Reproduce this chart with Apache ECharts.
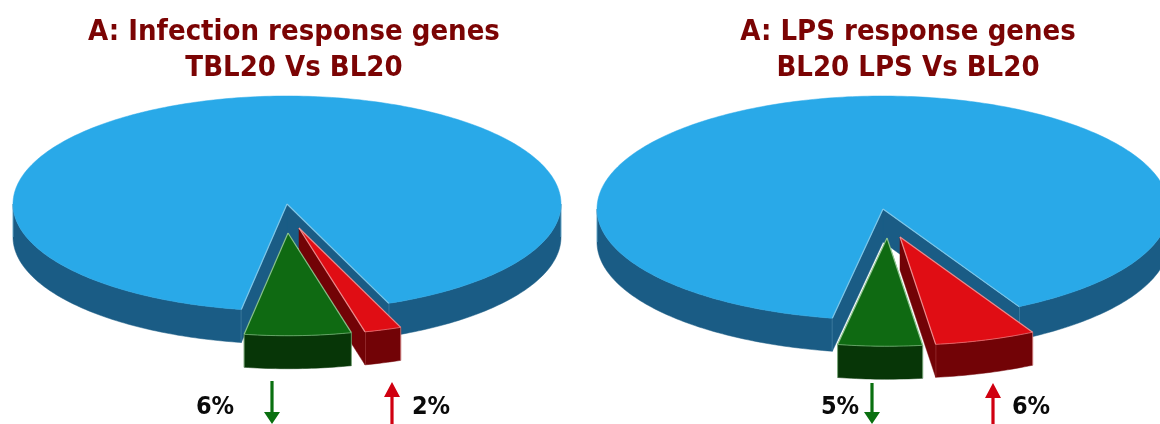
<!DOCTYPE html>
<html>
<head>
<meta charset="utf-8">
<style>html,body{margin:0;padding:0;background:#fff;overflow:hidden}#chart{width:1160px;height:424px}</style>
<script src="https://cdn.jsdelivr.net/npm/echarts@6/dist/echarts.min.js"></script>
</head>
<body>
<div id="chart"></div>
<script>
// Gene shares per comparison, in percent
const sliceNames = ['Down', 'Up', 'Unchanged'];
const infectionShares = [6, 2, 92];
const lpsShares = [5, 6, 89];
const panelTitles = [
  'A: Infection response genes\nTBL20 Vs BL20',
  'A: LPS response genes\nBL20 LPS Vs BL20'
];
const downLabels = ['6%', '5%'];
const upLabels = ['2%', '6%'];

// Colours per slice: top face, side face, edge highlight
const faces = {
  Down: { top: '#0f6a12', side: '#073607', edge: '#9ed09e' },
  Up: { top: '#e00d14', side: '#720306', edge: '#f0a0a0' },
  Unchanged: { top: '#29a9e8', side: '#1a5c85', edge: '#8ccdea' }
};

// Disc placement in the projected view; the near half of the disc is slightly flatter
const pies = [
  { shares: infectionShares, cx: 287, cy: 204, rx: 274, ry: 108, ryNear: 107, depth: 33, start: -9.6, fan: 1.09,
    pull: { Down: [1, 29, 0.96], Up: [12, 24, 1], Unchanged: [0, 0, 1] } },
  { shares: lpsShares, cx: 883, cy: 209, rx: 286, ry: 113, ryNear: 111, depth: 33, start: -10.2, fan: 0.975,
    pull: { Down: [4, 29, 0.975], Up: [17, 28, 0.975], Unchanged: [0, 0, 1] } }
];

// Rows in paint order: back disc first, pulled-out slices over it
const rows = [];
pies.forEach(function (pie, p) {
  const total = pie.shares.reduce(function (a, b) { return a + b; }, 0);
  const sweepD = pie.shares[0] / total * 360 * pie.fan;
  const sweepU = pie.shares[1] / total * 360 * pie.fan;
  const spans = [
    [pie.start, pie.start + sweepD],
    [pie.start + sweepD, pie.start + sweepD + sweepU],
    [pie.start + sweepD + sweepU, pie.start + 360]
  ];
  [2, 1, 0].forEach(function (s) {
    rows.push([p, s, pie.shares[s], spans[s][0], spans[s][1]]);
  });
});

function renderSlice(params, api) {
  const pie = pies[api.value(0)];
  const name = sliceNames[api.value(1)];
  const a0 = api.value(3), a1 = api.value(4);
  const look = faces[name];
  const pull = pie.pull[name];
  const ox = pie.cx + pull[0], oy = pie.cy + pull[1];
  const rx = pie.rx * pull[2];
  const d = pie.depth;
  // Angles run from the front of the disc, growing to the right
  const pt = function (deg, drop) {
    const t = deg * Math.PI / 180;
    const c = Math.cos(t);
    const ry = (c > 0 ? pie.ryNear : pie.ry) * pull[2];
    return [ox + rx * Math.sin(t), oy + ry * c + (drop || 0)];
  };
  const arc = function (from, to, drop) {
    const out = [];
    const n = Math.max(2, Math.ceil(Math.abs(to - from)));
    for (let i = 0; i <= n; i++) out.push(pt(from + (to - from) * i / n, drop));
    return out;
  };
  const poly = function (points, fill, stroke) {
    return { type: 'polygon', shape: { points: points },
      style: { fill: fill, stroke: stroke || fill, lineWidth: stroke ? 1 : 0.5, lineJoin: 'round' } };
  };
  const children = [];
  // Outer rim, only where the disc faces the viewer
  [[-90, 90], [270, 450]].forEach(function (w) {
    const from = Math.max(a0, w[0]), to = Math.min(a1, w[1]);
    if (to > from) {
      const rim = arc(from, to, 0).concat(arc(to, from, d));
      children.push(poly(rim, look.side));
      children.push({ type: 'polyline', shape: { points: [pt(from, 0), pt(from, d)] },
        style: { stroke: look.edge, lineWidth: 1, opacity: 0.6, fill: null } });
      children.push({ type: 'polyline', shape: { points: [pt(to, 0), pt(to, d)] },
        style: { stroke: look.edge, lineWidth: 1, opacity: 0.6, fill: null } });
    }
  });
  // Cut faces that turn toward the viewer
  const wall = function (deg) {
    children.push(poly([[ox, oy], [ox, oy + d], pt(deg, d), pt(deg, 0)], look.side));
  };
  if (Math.sin(a0 * Math.PI / 180) > 0) wall(a0);
  if (Math.sin(a1 * Math.PI / 180) < 0) wall(a1);
  // Top face
  children.push(poly([[ox, oy]].concat(arc(a0, a1, 0)), look.top));
  // Light seams along the front of the top face
  const seams = [[[ox, oy], pt(a0, 0)], [[ox, oy], pt(a1, 0)]];
  seams.forEach(function (s) {
    children.push({ type: 'polyline', shape: { points: s },
      style: { stroke: look.edge, lineWidth: 1.2, opacity: 0.85, fill: null } });
  });
  if (name !== 'Unchanged') {
    children.push({ type: 'polyline', shape: { points: arc(a0, a1, 0) },
      style: { stroke: look.edge, lineWidth: 1, opacity: 0.55, fill: null } });
  }
  return { type: 'group', children: children };
}

const titleFont = 'DejaVu Sans Condensed, DejaVu Sans, sans-serif';
function pctLabel(text, x) {
  return { type: 'text', x: x, y: 407, silent: true,
    style: { text: text, fill: '#0a0a0a', font: 'bold 25px ' + titleFont, align: 'center', verticalAlign: 'middle' } };
}
function arrow(x, top, bottom, up, color) {
  const head = up ? 15 : 12, half = 8, shaft = 1.6;
  const pts = up
    ? [[x, top], [x + half, top + head], [x + shaft, top + head], [x + shaft, bottom], [x - shaft, bottom], [x - shaft, top + head], [x - half, top + head]]
    : [[x, bottom], [x + half, bottom - head], [x + shaft, bottom - head], [x + shaft, top], [x - shaft, top], [x - shaft, bottom - head], [x - half, bottom - head]];
  return { type: 'polygon', silent: true, shape: { points: pts }, style: { fill: color } };
}

const chart = echarts.init(document.getElementById('chart'), null, { renderer: 'canvas' });
chart.setOption({
  animation: false,
  backgroundColor: '#ffffff',
  title: panelTitles.map(function (t, i) {
    return {
      text: t, left: i === 0 ? 289 : 903, top: 9, textAlign: 'center',
      textStyle: { color: '#7b0404', fontFamily: titleFont, fontWeight: 'bold', fontSize: 29, lineHeight: 36 }
    };
  }),
  series: [{
    type: 'custom',
    coordinateSystem: 'none',
    silent: true,
    clip: false,
    renderItem: renderSlice,
    data: rows
  }],
  graphic: [
    pctLabel(downLabels[0], 215),
    pctLabel(upLabels[0], 431),
    pctLabel(downLabels[1], 840),
    pctLabel(upLabels[1], 1031),
    arrow(272, 381, 424, false, '#0a7010'),
    arrow(392, 382, 424, true, '#d00010'),
    arrow(872, 383, 424, false, '#0a7010'),
    arrow(993, 383, 424, true, '#d00010')
  ]
});
</script>
</body>
</html>
